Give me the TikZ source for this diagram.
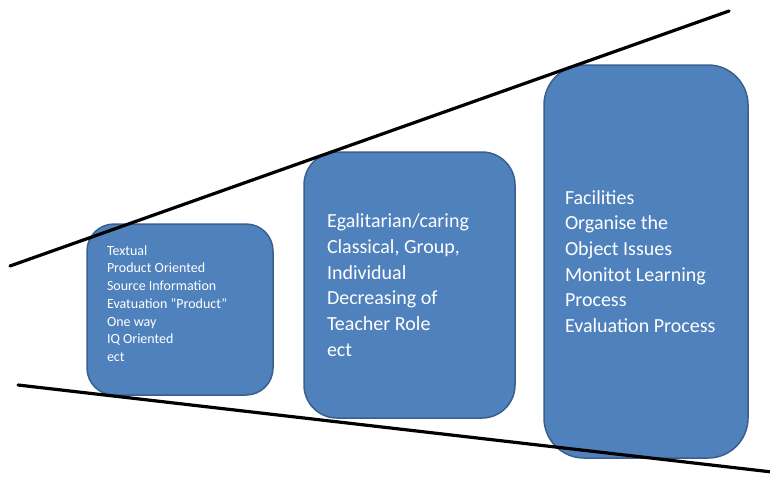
\documentclass[tikz,border=0pt]{standalone}
\usepackage{fontspec}
\setmainfont{Carlito}
\definecolor{boxblue}{HTML}{4F81BD}
\definecolor{boxedge}{HTML}{3A5F8C}
\tikzset{
  stage/.style = {draw = boxedge, line width = 1.5pt, fill = boxblue, text = white,
    rounded corners = #1, align = flush left, anchor = center},
  edge line/.style = {line width = 3.2pt, black, line cap = round}
}
\begin{document}
\begin{tikzpicture}[x = 1pt, y = -1pt]
	 \useasboundingbox (0, 0) rectangle (770, 477);

	 \node[stage = 27pt, text width = 146pt, inner xsep = 20pt, inner ysep = 0pt,
	   minimum height = 171pt, font = \fontsize{14}{17.7}\selectfont] (teacher) at (180, 309.5)
	   {Textual\\Product Oriented\\Source Information\\Evatuation “Product”\\One way\\IQ Oriented\\ect\\[-5.7pt]\mbox{}};

	 \node[stage = 33pt, text width = 165pt, inner xsep = 23pt, inner ysep = 0pt,
	   minimum height = 266pt, font = \fontsize{20}{25.7}\selectfont] (caring) at (409.5, 285)
	   {Egalitarian/caring\\Classical, Group,\\Individual\\Decreasing of\\Teacher Role\\ect};

	 \node[stage = 40pt, text width = 162pt, inner xsep = 21pt, inner ysep = 0pt,
	   minimum height = 393pt, font = \fontsize{20}{25.7}\selectfont] (facilities) at (646, 261.5)
	   {Facilities\\Organise the\\Object Issues\\Monitot Learning\\Process\\Evaluation Process};

	 \coordinate (top left) at (10, 266);
	 \coordinate (top right) at (729, 11);
	 \coordinate (bottom left) at (18, 385);
	 \coordinate (bottom right) at (772, 472);

	 \draw[edge line] (top left) -- (top right);
	 \draw[edge line] (bottom left) -- (bottom right);
\end{tikzpicture}
\end{document}
